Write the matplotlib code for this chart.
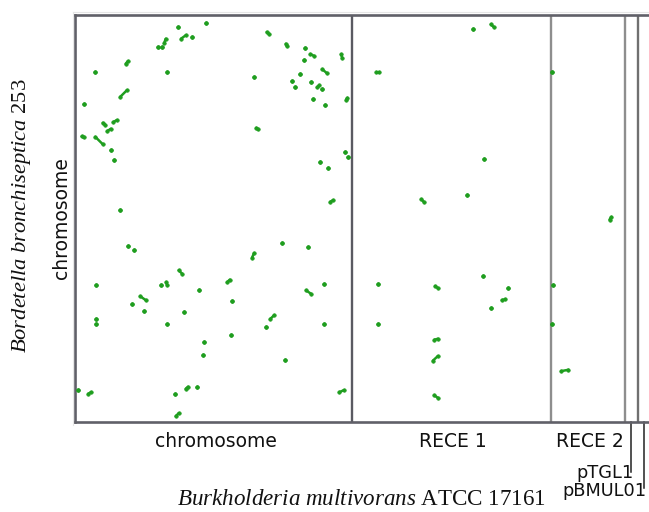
import matplotlib
matplotlib.use("Agg")
import matplotlib.pyplot as plt
from matplotlib.lines import Line2D

plt.rcParams["mathtext.fontset"] = "custom"
plt.rcParams["mathtext.it"] = "Liberation Serif:italic"
plt.rcParams["mathtext.rm"] = "Liberation Serif"

# Replicon sizes (kb)
x_replicons = ["chromosome", "RECE 1", "RECE 2", "pTGL1", "pBMUL01"]
x_sizes = [3448, 2473, 919, 167, 150]
y_replicons = ["chromosome"]
y_sizes = [5264]

# Matches: start/end on B. multivorans (x, kb, concatenated) and B. bronchiseptica (y, kb)
x_start = [1627, 1286, 1320, 1457, 1030, 1087, 1112, 2387, 2623, 2868, 2930, 2851, 3312, 631,
           253, 1149, 2225, 2801, 3079, 2698, 2739, 2942, 3013, 3075, 2963, 3117, 3374, 564,
           108, 345, 477, 402, 83, 253, 2257, 444, 3748, 4952, 5176, 5943, 489, 3362, 3403,
           3050, 3154, 557, 3175, 660, 731, 2574, 2905, 2204, 1291, 261, 1071, 1133, 1548,
           1893, 3104, 2876, 813, 710, 1959, 859, 1361, 258, 258, 1149, 2428, 2378, 3104,
           1939, 1606, 1597, 2615, 37, 166, 1245, 1378, 1515, 3291, 1254, 5096, 4312, 4877,
           6653, 5084, 3773, 4482, 5395, 5313, 5180, 5948, 3773, 5943, 4474, 4454, 6051, 4474]
x_end = [1627, 1286, 1378, 1457, 1030, 1087, 1129, 2419, 2640, 2868, 2972, 2851, 3328, 656,
         253, 1149, 2225, 2801, 3134, 2698, 2739, 2942, 3038, 3075, 2963, 3117, 3390, 644,
         108, 377, 519, 444, 108, 345, 2275, 444, 3781, 4952, 5213, 5943, 489, 3362, 3403,
         3050, 3154, 557, 3209, 660, 731, 2574, 2905, 2229, 1332, 261, 1071, 1149, 1548,
         1926, 3104, 2935, 884, 710, 1959, 859, 1361, 258, 258, 1149, 2481, 2378, 3104,
         1939, 1606, 1597, 2615, 37, 199, 1245, 1407, 1515, 3346, 1291, 5096, 4345, 4877,
         6677, 5084, 3773, 4516, 5395, 5358, 5180, 5948, 3773, 5943, 4516, 4516, 6142, 4516]
y_start = [104, 159, 307, 285, 411, 411, 359, 220, 372, 432, 506, 580, 510, 631,
           735, 735, 808, 761, 704, 856, 937, 873, 937, 963, 1089, 1171, 1102, 1059,
           1158, 1396, 1387, 1504, 1573, 1578, 1461, 1750, 735, 178, 121, 735, 1884, 1780, 1837,
           1902, 1980, 2519, 2421, 2991, 3047, 2956, 3004, 3142, 3306, 3492, 3501, 3458, 3557,
           3462, 3488, 3566, 3643, 3738, 3699, 3834, 3847, 3933, 3997, 3997, 3938, 4045, 3997,
           4145, 4236, 4399, 4464, 4862, 4905, 4914, 4840, 4819, 4884, 5195, 1863, 2386, 2334,
           2649, 3380, 3488, 3510, 3540, 3691, 3795, 3501, 3997, 3997, 4205, 4477, 4612, 4927]
y_end = [104, 159, 263, 285, 411, 411, 307, 250, 406, 432, 528, 580, 561, 600,
         735, 735, 808, 761, 752, 856, 937, 873, 912, 963, 1089, 1171, 1072, 976,
         1158, 1422, 1361, 1474, 1586, 1673, 1478, 1750, 735, 178, 156, 735, 1884, 1780, 1837,
         1902, 1980, 2519, 2399, 2991, 3047, 2956, 3004, 3082, 3349, 3492, 3501, 3501, 3557,
         3427, 3488, 3608, 3695, 3738, 3699, 3834, 3847, 3933, 3997, 3997, 3886, 4045, 3997,
         4145, 4236, 4399, 4464, 4862, 4884, 4914, 4814, 4819, 4858, 5156, 1863, 2425, 2334,
         2615, 3380, 3488, 3536, 3540, 3682, 3795, 3501, 3997, 3997, 4192, 4417, 4594, 4957]

W, H = 649, 512
fig = plt.figure(figsize=(W / 100, H / 100), dpi=100)

left, right, top, bottom = 75, 650, 15, 421.5
ax = fig.add_axes([left / W, 1 - bottom / H, (right - left) / W, (bottom - top) / H])

x_total = sum(x_sizes)
y_total = sum(y_sizes)
ax.set_xlim(0, x_total)
ax.set_ylim(y_total, 0)
ax.set_xticks([])
ax.set_yticks([])

frame_color = "#606068"
for side in ("left", "top", "bottom"):
    ax.spines[side].set_color(frame_color)
    ax.spines[side].set_linewidth(1.9)
ax.spines["right"].set_visible(False)

# Replicon boundaries
boundary_colors = ["#5a5a62", "#8e8e8e", "#8e8e8e", "#707070"]
pos = 0
bounds = []
for size in x_sizes:
    bounds.append((pos, pos + size))
    pos += size
for (a, b), c in zip(bounds[:-1], boundary_colors):
    ax.axvline(b, color=c, lw=1.7, zorder=1)

# Alignment matches
green = "#1f9e1f"
for xs, xe, ys, ye in zip(x_start, x_end, y_start, y_end):
    ax.plot([xs, xe], [ys, ye], color=green, lw=1.8, solid_capstyle="round",
            marker="o", ms=2.6, mec=green, mfc=green, mew=0.4, zorder=3)

# Faint outer edge around the frame
fig.add_artist(Line2D([72.5 / W, 1], [1 - 12 / H, 1 - 12 / H], color="#e6e6e6", lw=0.8))
fig.add_artist(Line2D([72.5 / W, 72.5 / W], [1 - 12 / H, 1 - 425 / H], color="#e6e6e6", lw=0.8))

# Replicon labels on the x axis
xt = ax.get_xaxis_transform()
label_y = -(447 - bottom) / (bottom - top)
for name, (a, b) in zip(x_replicons[:3], bounds[:3]):
    ax.text((a + b) / 2 + 25, label_y, name, transform=xt, ha="center", va="baseline",
            fontsize=13.5, family="DejaVu Sans", color="#111111")

# Small replicons: leader lines with right-aligned labels
small_lines = [472, 488]
small_text_y = [478, 496]
small_text_x = [634, 647]
for name, (a, b), ly, ty, tx in zip(x_replicons[3:], bounds[3:], small_lines, small_text_y, small_text_x):
    mid = (a + b) / 2
    ax.plot([mid, mid], [0, -(ly - bottom) / (bottom - top)], transform=xt,
            color="#222222", lw=1.1, clip_on=False)
    fig.text(tx / W, 1 - ty / H, name, ha="right", va="baseline",
             fontsize=12.8, family="DejaVu Sans", color="#111111")

# Axis titles
fig.text(361 / W, 1 - 505 / H, r"$\mathit{Burkholderia\ multivorans}$ ATCC 17161",
         ha="center", va="baseline", fontsize=16.6, family="Liberation Serif", color="#111111")
fig.text(22 / W, 1 - 216 / H, r"$\mathit{Bordetella\ bronchiseptica}$ 253",
         rotation=90, ha="center", va="center", fontsize=16.2, family="Liberation Serif",
         color="#111111")
fig.text(62 / W, 1 - 218 / H, y_replicons[0], rotation=90, ha="center", va="center",
         fontsize=13.5, family="DejaVu Sans", color="#111111")

fig.savefig("out.png", dpi=100)
